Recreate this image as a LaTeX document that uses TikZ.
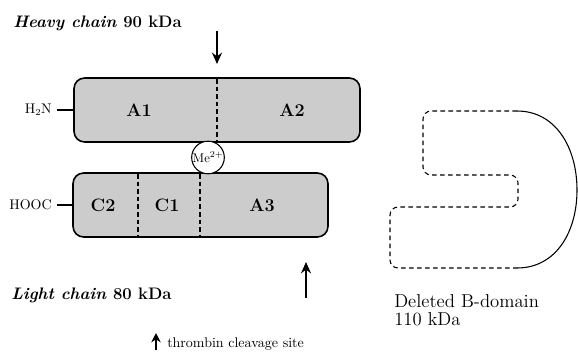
\documentclass[tikz,border=0pt]{standalone}
\usepackage{tikz}
\usepackage{amsmath}
\usetikzlibrary{shapes.geometric, arrows.meta}
\tikzstyle{cleave} = [line width=1.4pt,-{Stealth[length=8.5pt,width=7.5pt]}]
\tikzstyle{chainbox} = [line width=1.2pt,rounded corners=8pt,fill=black!20]
\tikzstyle{domainsep} = [line width=1pt,dash pattern={on 3.5pt off 2.2pt}]
\tikzstyle{bdomain} = [line width=0.8pt]

\begin{document}
\begin{tikzpicture}[x=0.75pt,y=0.75pt,yscale=-1,xscale=1]
\useasboundingbox (0,0) rectangle (578,354);

%Shape: Heavy chain box
\draw [chainbox] (74,78) rectangle (360,142) ;
%Straight Lines: A1/A2 border
\draw [domainsep] (217,79) -- (217,141) ;
%Shape: Light chain box
\draw [chainbox] (73,173) rectangle (328,237) ;
%Straight Lines: C2/C1 and C1/A3 borders
\draw [domainsep] (138,174) -- (138,236) ;
\draw [domainsep] (200,174) -- (200,236) ;

%Shape: metal ion
\node (metal) [circle,draw,line width=0.8pt,fill=white,minimum size=23pt,inner sep=0pt] at (208,157.5) {\fontsize{9.5}{10}\selectfont Me\textsuperscript{2+}};

% Text Node: domain labels
\node (a1) at (139,110) {\fontsize{13.5}{15}\selectfont\bfseries A1};
\node (a2) at (292,110) {\fontsize{13.5}{15}\selectfont\bfseries A2};
\node (c2) at (103,205) {\fontsize{13.5}{15}\selectfont\bfseries C2};
\node (c1) at (167,205) {\fontsize{13.5}{15}\selectfont\bfseries C1};
\node (a3) at (262,205) {\fontsize{13.5}{15}\selectfont\bfseries A3};

% Text Node: termini
\node (nterm) [anchor=base east,inner sep=0.75pt] at (53,113.5) {\fontsize{10.5}{12}\selectfont H$_2$N};
\node (cterm) [anchor=base east,inner sep=0.75pt] at (53,209.5) {\fontsize{10.5}{12}\selectfont HOOC};
\coordinate (nend) at (74,110) ;
\coordinate (cend) at (73,205) ;
\draw [line width=0.8pt] ([xshift=3pt]nterm.east |- nend) -- (nend) ;
\draw [line width=0.8pt] ([xshift=3pt]cterm.east |- cend) -- (cend) ;

% Text Node: chain titles
\node (heavy) [anchor=base west,inner sep=0.75pt] at (12,27) {\fontsize{12.5}{14}\selectfont\bfseries\itshape Heavy chain \upshape 90 kDa};
\node (light) [anchor=base west,inner sep=0.75pt] at (10,299) {\fontsize{12.5}{14}\selectfont\bfseries\itshape Light chain \upshape 80 kDa};

%Straight Lines: thrombin cleavage sites
\coordinate (cut1s) at (217,31) ;
\coordinate (cut1e) at (217,64) ;
\draw [cleave] (cut1s) -- (cut1e) ;
\coordinate (cut2s) at (306,298) ;
\coordinate (cut2e) at (306,262) ;
\draw [cleave] (cut2s) -- (cut2e) ;

% Text Node: legend
\node (legend) [anchor=base west,inner sep=0.75pt] at (166,347) {\fontsize{10.5}{12}\selectfont thrombin cleavage site};
\coordinate (legs) at (156,350) ;
\coordinate (lege) at (156,333) ;
\draw [cleave,line width=1.3pt,-{Stealth[length=7pt,width=7pt]}] (legs) -- (lege) ;

%Shape: deleted B-domain
\draw [bdomain,dash pattern={on 3.5pt off 2.5pt},rounded corners=6pt] (517,111) -- (423,111) -- (423,175) -- (518,175) -- (518,207) -- (390,207) -- (390,268) -- (517,268) ;
\draw [bdomain] (517,268) .. controls (556,268) and (577,232) .. (577,190) .. controls (577,148) and (556,111) .. (517,111) ;
\node (bname) [anchor=base west,inner sep=0.75pt] at (393,307) {\fontsize{14}{16}\selectfont Deleted B-domain};
\node (bmass) [anchor=base west,inner sep=0.75pt] at (393,325) {\fontsize{14}{16}\selectfont 110 kDa};

\end{tikzpicture}
\end{document}
